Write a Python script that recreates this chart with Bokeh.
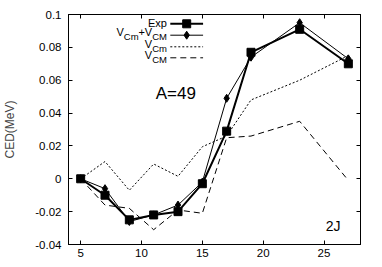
from bokeh.plotting import figure
from bokeh.models import LinearAxis, FixedTicker, Label, Range1d
from bokeh.embed import file_html
from bokeh.resources import INLINE

# ---------------- data ----------------
spin2j = [5, 7, 9, 11, 13, 15, 17, 19, 23, 27]
ced_exp = [0.0, -0.010, -0.025, -0.022, -0.020, -0.003, 0.029, 0.077, 0.091, 0.070]
ced_vcm_vcm = [0.0, -0.006, -0.026, -0.022, -0.016, -0.002, 0.049, 0.074, 0.095, 0.073]
ced_vcm_small = [0.0, 0.0105, -0.007, 0.009, 0.0015, 0.0195, 0.026, 0.048, 0.060, 0.075]
ced_vcm_big = [0.0, -0.016, -0.018, -0.031, -0.019, -0.021, 0.025, 0.026, 0.035, -0.001]

x_ticks = [5, 10, 15, 20, 25]
y_ticks = [-0.04, -0.02, 0.0, 0.02, 0.04, 0.06, 0.08, 0.1]
y_tick_labels = ["-0.04", "-0.02", "0", "0.02", "0.04", "0.06", "0.08", "0.1"]
X_MIN, X_MAX = 4, 28
Y_MIN, Y_MAX = -0.04, 0.1

# ---------------- layout ----------------
FONT = "Liberation Sans"
W, H = 382, 267
MB_L, MB_R, MB_T, MB_B = 66, 22, 14, 23
FRAME_W = W - MB_L - MB_R
FRAME_H = H - MB_T - MB_B


def px_x(px):
    """canvas pixel -> data x (through the frame's linear scale)"""
    return X_MIN + (px - MB_L) / FRAME_W * (X_MAX - X_MIN)


def px_y(py):
    return Y_MAX - (py - MB_T) / FRAME_H * (Y_MAX - Y_MIN)


def dx_px(w):
    return w / FRAME_W * (X_MAX - X_MIN)


p = figure(width=W, height=H, x_range=Range1d(X_MIN, X_MAX), y_range=Range1d(Y_MIN, Y_MAX),
           output_backend="svg", toolbar_location=None,
           min_border_left=MB_L, min_border_right=MB_R,
           min_border_top=MB_T, min_border_bottom=MB_B)
p.grid.visible = False
p.outline_line_color = "black"
p.outline_line_width = 1
p.background_fill_color = "white"
p.border_fill_color = "white"


def style_axis(ax, show_labels=True):
    ax.major_tick_in = 4
    ax.major_tick_out = 0
    ax.minor_tick_line_color = None
    ax.axis_line_color = "black"
    ax.major_tick_line_color = "black"
    ax.major_label_text_font = FONT
    ax.major_label_text_color = "black"
    if show_labels:
        ax.major_label_text_font_size = "11.5px"
    else:
        ax.major_label_text_font_size = "0px"
        ax.major_label_text_color = None
        ax.major_label_standoff = 0


xa = p.xaxis[0]
xa.ticker = FixedTicker(ticks=x_ticks)
style_axis(xa)
xa.major_label_standoff = 4

ya = p.yaxis[0]
ya.ticker = FixedTicker(ticks=y_ticks)
ya.major_label_overrides = {t: s for t, s in zip(y_ticks, y_tick_labels)}
style_axis(ya)
ya.major_label_standoff = 7
ya.axis_label = "CED(MeV)"
ya.axis_label_text_font = FONT
ya.axis_label_text_font_style = "normal"
ya.axis_label_text_font_size = "12px"
ya.axis_label_standoff = 15

top_ax = LinearAxis(ticker=FixedTicker(ticks=x_ticks))
style_axis(top_ax, False)
p.add_layout(top_ax, "above")
right_ax = LinearAxis(ticker=FixedTicker(ticks=y_ticks))
style_axis(right_ax, False)
p.add_layout(right_ax, "right")

# ---------------- series ----------------
STYLES = [
    dict(line_width=2, line_dash="solid", marker="square", size=8),
    dict(line_width=1, line_dash="solid", marker="diamond", size=8),
    dict(line_width=1, line_dash="2 2", marker=None, size=0),
    dict(line_width=1, line_dash="6 4", marker=None, size=0),
]
SERIES = [ced_exp, ced_vcm_vcm, ced_vcm_small, ced_vcm_big]
for ys, st in zip(SERIES, STYLES):
    p.line(spin2j, ys, line_color="black", line_width=st["line_width"], line_dash=st["line_dash"])
    if st["marker"]:
        p.scatter(spin2j, ys, marker=st["marker"], size=st["size"], color="black")

# ---------------- legend (key samples, placed in canvas pixels) ----------------
KEY_X0, KEY_X1, KEY_MARK = 168.5, 201.5, 185
ROW_Y = [23.3, 34.7, 46.3, 57.3]
TEXT_RIGHT = 165
for ry, st in zip(ROW_Y, STYLES):
    p.line([px_x(KEY_X0), px_x(KEY_X1)], [px_y(ry), px_y(ry)], line_color="black",
           line_width=st["line_width"], line_dash=st["line_dash"])
    if st["marker"]:
        p.scatter([px_x(KEY_MARK)], [px_y(ry)], marker=st["marker"], size=st["size"], color="black")

WIDTHS = {"V": 0.667, "C": 0.722, "M": 0.833, "m": 0.833, "+": 0.584,
          "E": 0.667, "x": 0.5, "p": 0.556}
MAIN_SIZE, SUB_SIZE = 11, 9.5


def rich_label(pieces, row_y):
    sizes = [SUB_SIZE if sub else MAIN_SIZE for _, sub in pieces]
    widths = [sum(WIDTHS.get(c, 0.556) for c in t) * s for (t, _), s in zip(pieces, sizes)]
    x = TEXT_RIGHT - sum(widths)
    for (t, sub), s, w in zip(pieces, sizes, widths):
        if len(pieces) == 1:
            cy = row_y - 0.6
        else:
            cy = row_y + 1.5 if sub else row_y - 3
        p.add_layout(Label(x=px_x(x), y=px_y(cy), text=t, text_font=FONT,
                           text_font_size=f"{s}px", text_align="left",
                           text_baseline="middle", text_color="black"))
        x += w


legend_texts = [
    [("Exp", False)],
    [("V", False), ("Cm", True), ("+", False), ("V", False), ("CM", True)],
    [("V", False), ("Cm", True)],
    [("V", False), ("CM", True)],
]
for ry, pieces in zip(ROW_Y, legend_texts):
    rich_label(pieces, ry)

# ---------------- annotations ----------------
p.add_layout(Label(x=px_x(174), y=px_y(93.3), text="A=49", text_font=FONT, text_font_size="17px",
                   text_align="center", text_baseline="middle", text_color="black"))
p.add_layout(Label(x=px_x(332.5), y=px_y(225), text="2J", text_font=FONT, text_font_size="14px",
                   text_align="center", text_baseline="middle", text_color="black"))

open("out.html", "w").write(file_html(p, INLINE))
